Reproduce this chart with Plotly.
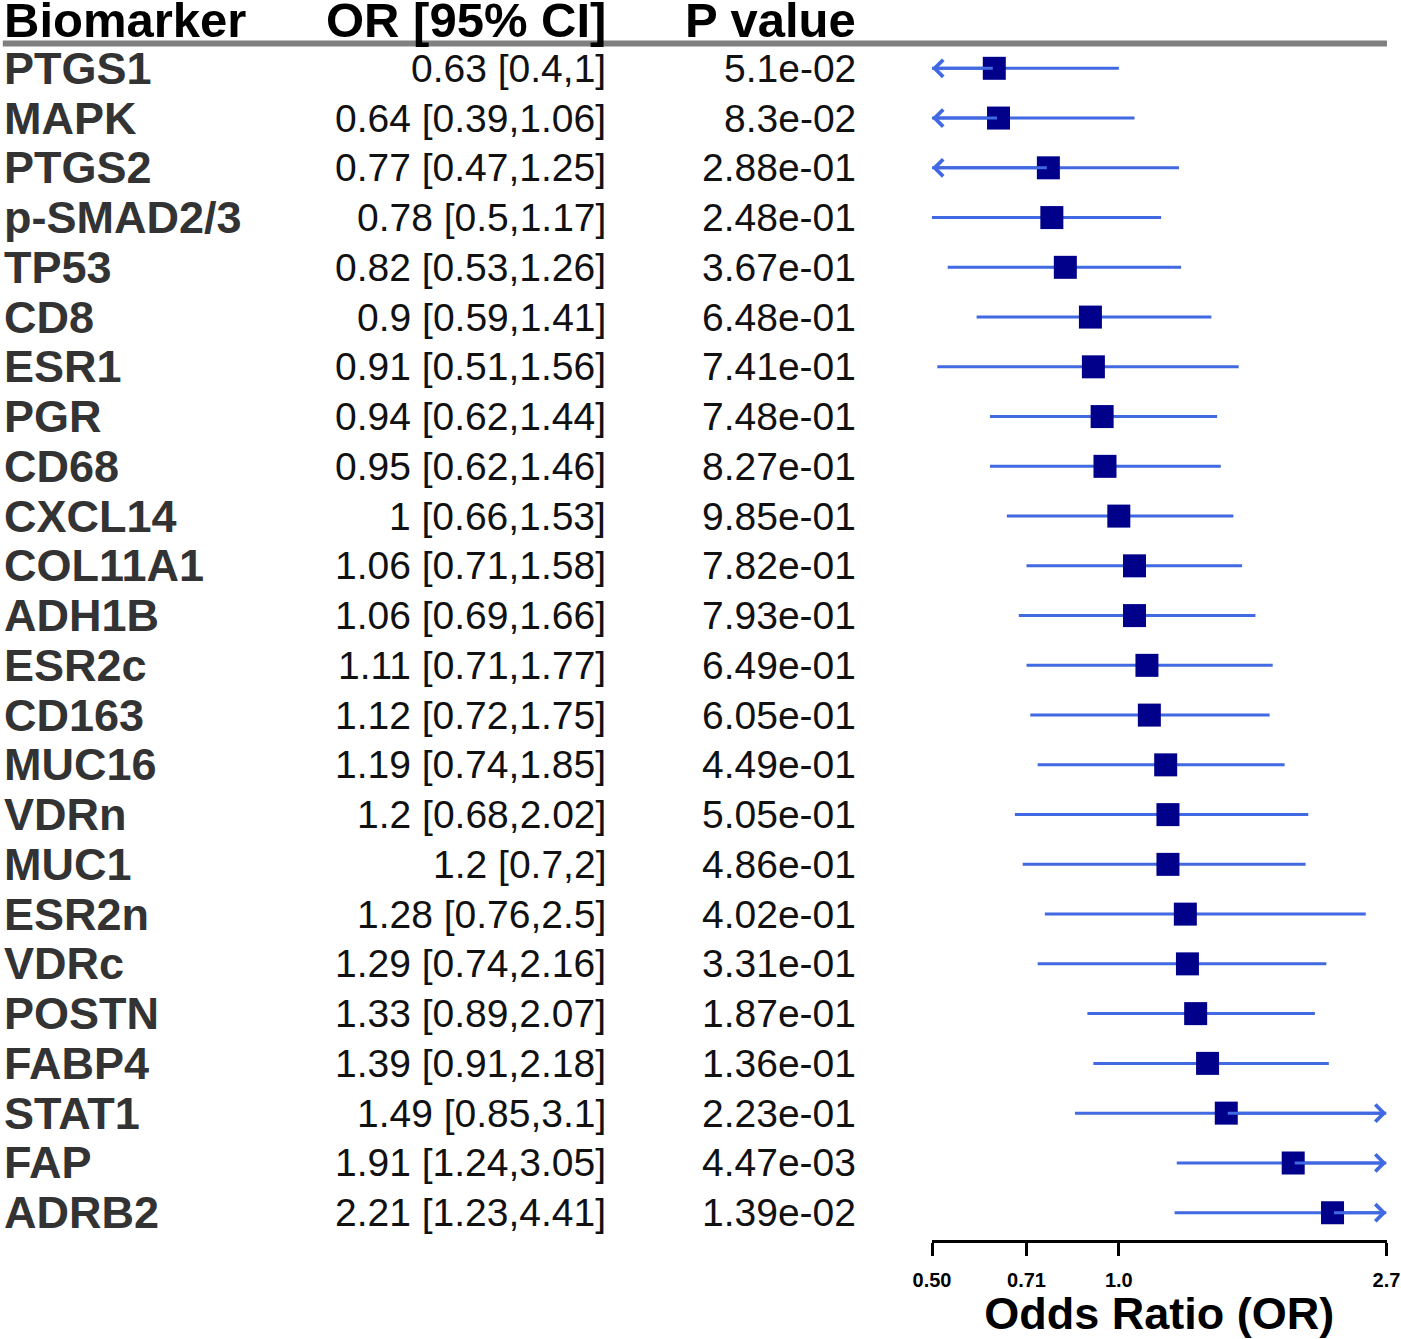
import math
import plotly.graph_objects as go

# ---- data ------------------------------------------------------------------
biomarkers = ["PTGS1", "MAPK", "PTGS2", "p-SMAD2/3", "TP53", "CD8", "ESR1", "PGR",
              "CD68", "CXCL14", "COL11A1", "ADH1B", "ESR2c", "CD163", "MUC16",
              "VDRn", "MUC1", "ESR2n", "VDRc", "POSTN", "FABP4", "STAT1", "FAP",
              "ADRB2"]
odds_ratio = [0.63, 0.64, 0.77, 0.78, 0.82, 0.9, 0.91, 0.94, 0.95, 1, 1.06, 1.06,
              1.11, 1.12, 1.19, 1.2, 1.2, 1.28, 1.29, 1.33, 1.39, 1.49, 1.91, 2.21]
ci_low = [0.4, 0.39, 0.47, 0.5, 0.53, 0.59, 0.51, 0.62, 0.62, 0.66, 0.71, 0.69,
          0.71, 0.72, 0.74, 0.68, 0.7, 0.76, 0.74, 0.89, 0.91, 0.85, 1.24, 1.23]
ci_high = [1, 1.06, 1.25, 1.17, 1.26, 1.41, 1.56, 1.44, 1.46, 1.53, 1.58, 1.66,
           1.77, 1.75, 1.85, 2.02, 2, 2.5, 2.16, 2.07, 2.18, 3.1, 3.05, 4.41]
p_values = [5.1e-02, 8.3e-02, 2.88e-01, 2.48e-01, 3.67e-01, 6.48e-01, 7.41e-01,
            7.48e-01, 8.27e-01, 9.85e-01, 7.82e-01, 7.93e-01, 6.49e-01, 6.05e-01,
            4.49e-01, 5.05e-01, 4.86e-01, 4.02e-01, 3.31e-01, 1.87e-01, 1.36e-01,
            2.23e-01, 4.47e-03, 1.39e-02]
headers = ["Biomarker", "OR [95% CI]", "P value"]
tick_vals = [0.5, 0.71, 1.0, 2.7]
tick_text = ["0.50", "0.71", "1.0", "2.7"]

X_MIN, X_MAX = 0.5, 2.7
LINE_BLUE, BOX_NAVY = "#4169E1", "#00008B"
FONT = "Liberation Sans"
W, H = 1401, 1339


def fmt_p(p):
    mant, exp = f"{p:.2e}".split("e")
    mant = mant.rstrip("0").rstrip(".")
    return f"{mant}e{exp}"


rows = list(range(len(biomarkers)))
lo_clip = [max(v, X_MIN) for v in ci_low]
hi_clip = [min(v, X_MAX) for v in ci_high]

# CI segments, one trace with gaps
seg_x, seg_y = [], []
for i in rows:
    seg_x += [lo_clip[i], hi_clip[i], None]
    seg_y += [i, i, None]

fig = go.Figure()
fig.add_trace(go.Scatter(x=seg_x, y=seg_y, mode="lines",
                         line=dict(color=LINE_BLUE, width=3),
                         hoverinfo="skip", showlegend=False))
fig.add_trace(go.Scatter(x=odds_ratio, y=rows, mode="markers",
                         marker=dict(symbol="square", size=23, color=BOX_NAVY,
                                     line=dict(width=0)),
                         customdata=list(zip(ci_low, ci_high)),
                         hovertemplate="%{text}<br>OR %{x} [%{customdata[0]}, "
                                       "%{customdata[1]}]<extra></extra>",
                         text=biomarkers, showlegend=False))

# arrows where the CI runs past the axis limits
for i in rows:
    for clipped, real in ((X_MIN, ci_low[i]), (X_MAX, ci_high[i])):
        if (clipped == X_MIN and real < X_MIN) or (clipped == X_MAX and real > X_MAX):
            fig.add_annotation(x=math.log10(clipped), y=i,
                               ax=math.log10(odds_ratio[i]), ay=i,
                               xref="x", yref="y", axref="x", ayref="y",
                               text="", showarrow=True, arrowhead=4,
                               arrowsize=1.1, arrowwidth=3,
                               arrowcolor=LINE_BLUE, standoff=0)

# table columns
for i in rows:
    fig.add_annotation(x=2 / W, y=i, xref="paper", yref="y",
                       text=biomarkers[i], showarrow=False, xanchor="left",
                       font=dict(family=FONT, size=45, color="#333333",
                                 weight="bold"))
    fig.add_annotation(x=608 / W, y=i, xref="paper", yref="y",
                       text=f"{odds_ratio[i]:g} [{ci_low[i]:g},{ci_high[i]:g}]",
                       showarrow=False, xanchor="right",
                       font=dict(family=FONT, size=39, color="#111111"))
    fig.add_annotation(x=858 / W, y=i, xref="paper", yref="y",
                       text=fmt_p(p_values[i]), showarrow=False, xanchor="right",
                       font=dict(family=FONT, size=39, color="#111111"))

# header row
for txt, xpos, anchor in zip(headers, [2 / W, 608 / W, 858 / W],
                             ["left", "right", "right"]):
    fig.add_annotation(x=xpos, y=-0.97, xref="paper", yref="y", text=txt,
                       showarrow=False, xanchor=anchor,
                       font=dict(family=FONT, size=49, color="black",
                                 weight="bold"))

# header rule and the OR = 1 reference line
fig.add_shape(type="line", xref="paper", yref="y", x0=0.002, x1=0.99,
              y0=-0.5, y1=-0.5, line=dict(color="#808080", width=6))
fig.add_shape(type="line", xref="x", yref="y", x0=0, x1=0, y0=-0.5, y1=23.55,
              line=dict(color="#d3d3d3", width=3), layer="below")

fig.update_layout(
    width=W, height=H, autosize=False,
    margin=dict(l=0, r=0, t=0, b=0, pad=0),
    plot_bgcolor="white", paper_bgcolor="white",
    xaxis=dict(type="log", range=[math.log10(X_MIN), math.log10(X_MAX)],
               domain=[932 / W, 1386.5 / W], automargin=False,
               tickvals=tick_vals, ticktext=tick_text,
               ticks="outside", ticklen=13, tickwidth=3, tickcolor="black",
               showline=True, linewidth=3, linecolor="black",
               showgrid=False, zeroline=False, ticklabelstandoff=7,
               tickfont=dict(family=FONT, size=20, color="black", weight="bold"),
               title=dict(text="Odds Ratio (OR)", standoff=6,
                          font=dict(family=FONT, size=45, color="black",
                                    weight="bold"))),
    yaxis=dict(range=[23.55, -1.373], domain=[(H - 1240) / H, 1],
               automargin=False,
               showgrid=False, zeroline=False, showticklabels=False,
               showline=False, ticks=""),
)

fig.write_html("out.html", config={"displayModeBar": False},
               post_script="document.body.style.margin='0px';")
